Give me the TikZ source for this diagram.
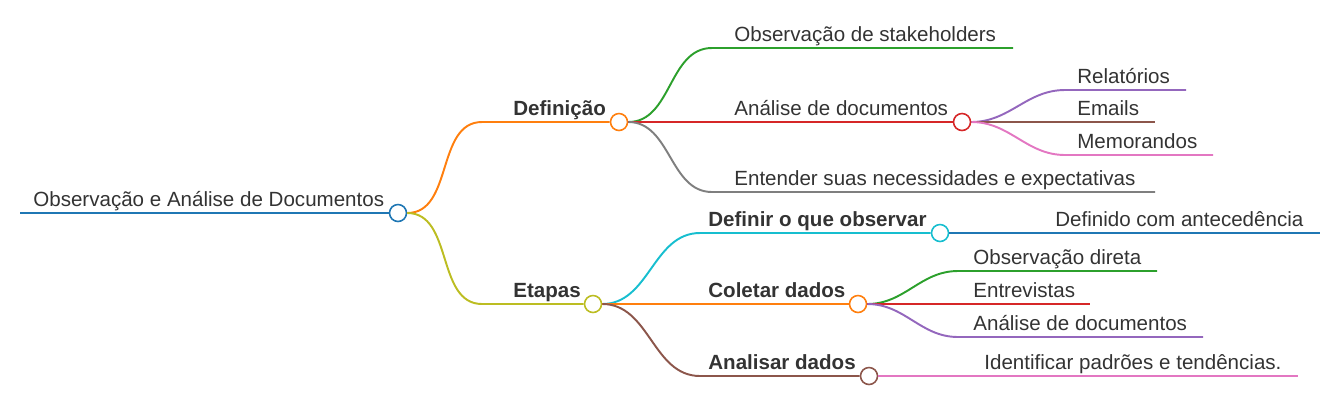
\documentclass[tikz,border=0pt]{standalone}
\usepackage{fontspec}
\setmainfont{Liberation Sans}
\usetikzlibrary{positioning, calc}
\definecolor{mapBlue}{HTML}{1F77B4}
\definecolor{mapOrange}{HTML}{FF7F0E}
\definecolor{mapGreen}{HTML}{2CA02C}
\definecolor{mapRed}{HTML}{D62728}
\definecolor{mapPurple}{HTML}{9467BD}
\definecolor{mapBrown}{HTML}{8C564B}
\definecolor{mapPink}{HTML}{E377C2}
\definecolor{mapGray}{HTML}{7F7F7F}
\definecolor{mapOlive}{HTML}{BCBD22}
\definecolor{mapCyan}{HTML}{17BECF}
\definecolor{mapText}{HTML}{333333}

\begin{document}
\begin{tikzpicture}[x=0.02cm, y=-0.02cm,
    topic/.style={anchor=base west, inner sep=0pt, text=mapText, font=\fontsize{11.7}{14}\selectfont},
    topicBold/.style={topic, font=\fontsize{11.7}{14}\selectfont\bfseries},
    knot/.style={circle, draw=#1, fill=white, line width=0.9pt, minimum size=0.34cm, inner sep=0pt},
    branch/.style={draw=#1, line width=1.1pt},
]
\useasboundingbox (0,0) rectangle (1338,410);

% root
\coordinate (rootA) at (20,213);
\node[knot=mapBlue] (root) at (398,213) {};
\draw[branch=mapBlue] (rootA) -- (root.west);
\node[topic] (rootT) at (33,206) {Observação e Análise de Documentos};

% Definicao
\coordinate (defA) at (482,122);
\node[knot=mapOrange] (def) at (619,122) {};
\draw[branch=mapOrange] (root.east) to[out=0, in=180] (defA) -- (def.west);
\node[topicBold] (defT) at (513,115) {Definição};

\coordinate (stkA) at (712,48);
\coordinate (stkB) at (1013,48);
\draw[branch=mapGreen] (def.east) to[out=0, in=180] (stkA) -- (stkB);
\node[topic] (stkT) at (734,41) {Observação de stakeholders};

\node[knot=mapRed] (ana) at (962,122) {};
\draw[branch=mapRed] (def.east) -- (ana.west);
\node[topic] (anaT) at (734,115) {Análise de documentos};

\coordinate (entA) at (712,192);
\coordinate (entB) at (1155,192);
\draw[branch=mapGray] (def.east) to[out=0, in=180] (entA) -- (entB);
\node[topic] (entT) at (734,185) {Entender suas necessidades e expectativas};

\coordinate (relA) at (1065,90);
\coordinate (relB) at (1186,90);
\draw[branch=mapPurple] (ana.east) to[out=0, in=180] (relA) -- (relB);
\node[topic] (relT) at (1077,83) {Relatórios};

\coordinate (emlB) at (1155,122);
\draw[branch=mapBrown] (ana.east) -- (emlB);
\node[topic] (emlT) at (1077,115) {Emails};

\coordinate (memA) at (1065,155);
\coordinate (memB) at (1213,155);
\draw[branch=mapPink] (ana.east) to[out=0, in=180] (memA) -- (memB);
\node[topic] (memT) at (1077,148) {Memorandos};

% Etapas
\coordinate (etpA) at (482,304);
\node[knot=mapOlive] (etp) at (593,304) {};
\draw[branch=mapOlive] (root.east) to[out=0, in=180] (etpA) -- (etp.west);
\node[topicBold] (etpT) at (513,297) {Etapas};

\coordinate (obsA) at (700,233);
\node[knot=mapCyan] (obs) at (940,233) {};
\draw[branch=mapCyan] (etp.east) to[out=0, in=180] (obsA) -- (obs.west);
\node[topicBold] (obsT) at (708,226) {Definir o que observar};

\coordinate (antB) at (1320,233);
\draw[branch=mapBlue] (obs.east) -- (antB);
\node[topic] (antT) at (1055,226) {Definido com antecedência};

\node[knot=mapOrange] (col) at (858,304) {};
\draw[branch=mapOrange] (etp.east) -- (col.west);
\node[topicBold] (colT) at (708,297) {Coletar dados};

\coordinate (dirA) at (958,271);
\coordinate (dirB) at (1157,271);
\draw[branch=mapGreen] (col.east) to[out=0, in=180] (dirA) -- (dirB);
\node[topic] (dirT) at (973,264) {Observação direta};

\coordinate (entvB) at (1090,304);
\draw[branch=mapRed] (col.east) -- (entvB);
\node[topic] (entvT) at (973,297) {Entrevistas};

\coordinate (docA) at (958,337);
\coordinate (docB) at (1203,337);
\draw[branch=mapPurple] (col.east) to[out=0, in=180] (docA) -- (docB);
\node[topic] (docT) at (973,330) {Análise de documentos};

\coordinate (anlA) at (700,376);
\node[knot=mapBrown] (anl) at (869,376) {};
\draw[branch=mapBrown] (etp.east) to[out=0, in=180] (anlA) -- (anl.west);
\node[topicBold] (anlT) at (708,369) {Analisar dados};

\coordinate (padB) at (1298,376);
\draw[branch=mapPink] (anl.east) -- (padB);
\node[topic] (padT) at (984,369) {Identificar padrões e tendências.};
\end{tikzpicture}
\end{document}
